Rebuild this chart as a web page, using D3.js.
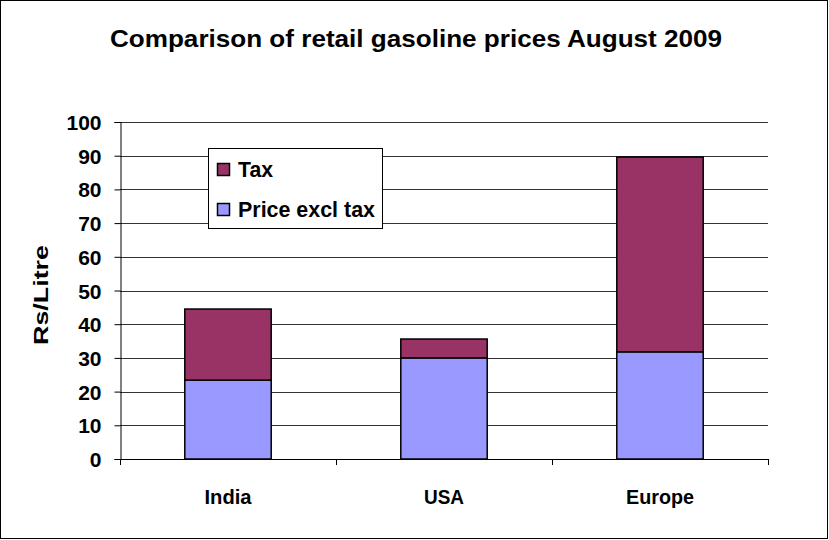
<!DOCTYPE html>
<html><head><meta charset="utf-8">
<script src="https://cdn.jsdelivr.net/npm/d3@7"></script>
<style>body{margin:0;background:#fff}svg{display:block;font-family:"Liberation Sans",Arial,sans-serif}</style>
</head><body><svg id="c" width="829" height="540"></svg>
<script>
const categories = ["India", "USA", "Europe"];
const priceExclTax = [23.4, 30.0, 31.8];
const tax = [21.1, 5.6, 57.8];
const yTicks = [0,10,20,30,40,50,60,70,80,90,100];
const seriesNames = ["Tax", "Price excl tax"];

const svg = d3.select("#c");
svg.append("rect").attr("x",0.5).attr("y",0.5).attr("width",827).attr("height",538)
  .attr("fill","#fff").attr("stroke","#000").attr("stroke-width",1);

const L=120,R=768,T=122,B=459;
const x = d3.scaleBand().domain(categories).range([L,R]).paddingInner(0).paddingOuter(0);
const y = d3.scaleLinear().domain([0,100]).range([B,T]);

svg.append("text").attr("x",110).attr("y",47)
  .attr("font-size",24).attr("font-weight","bold")
  .attr("textLength",612).attr("lengthAdjust","spacingAndGlyphs")
  .text("Comparison of retail gasoline prices August 2009");

// gridlines
svg.append("g").selectAll("line").data(yTicks.filter(d=>d>0)).join("line")
  .attr("x1",L).attr("x2",R).attr("y1",d=>Math.round(y(d))+0.5).attr("y2",d=>Math.round(y(d))+0.5)
  .attr("stroke","#333").attr("stroke-width",1.2);

// y axis
const ya = svg.append("g").attr("transform",`translate(${L+0.5},0)`)
  .call(d3.axisLeft(y).tickValues(yTicks).tickSize(6).tickPadding(13));
ya.select(".domain").attr("stroke","#000");
ya.selectAll(".tick line").attr("stroke","#000");
ya.selectAll("text").attr("font-size",21).attr("font-weight","bold").attr("fill","#000")
  .attr("dy","0.36em").attr("font-family","Liberation Sans, Arial, sans-serif");

// x axis
const xa = svg.append("g").attr("transform",`translate(0,${B+0.5})`)
  .call(d3.axisBottom(x).tickSize(0).tickPadding(0));
xa.select(".domain").remove();
svg.append("line").attr("x1",L).attr("x2",R).attr("y1",B+0.5).attr("y2",B+0.5).attr("stroke","#000").attr("stroke-width",1.2);
svg.append("g").selectAll("line").data([0,1,2,3]).join("line")
  .attr("x1",i=>Math.round(L+i*x.bandwidth())+0.5).attr("x2",i=>Math.round(L+i*x.bandwidth())+0.5)
  .attr("y1",B).attr("y2",B+6).attr("stroke","#000");
xa.selectAll("text").attr("font-size",21).attr("font-weight","bold").attr("fill","#000")
  .attr("y",44).attr("dy",0).attr("font-family","Liberation Sans, Arial, sans-serif")
  .attr("textLength",d=>({India:47,USA:40,Europe:68})[d]).attr("lengthAdjust","spacingAndGlyphs");

// bars
const bw = x.bandwidth()*0.4;
const g = svg.append("g");
categories.forEach((c,i)=>{
  const cx = x(c)+x.bandwidth()/2;
  g.append("rect").attr("x",cx-bw/2).attr("y",y(priceExclTax[i])).attr("width",bw)
    .attr("height",y(0)-y(priceExclTax[i])).attr("fill","#9999ff").attr("stroke","#000").attr("stroke-width",1.5);
  g.append("rect").attr("x",cx-bw/2).attr("y",y(priceExclTax[i]+tax[i])).attr("width",bw)
    .attr("height",y(priceExclTax[i])-y(priceExclTax[i]+tax[i])).attr("fill","#993366").attr("stroke","#000").attr("stroke-width",1.5);
});

// y title
svg.append("text").attr("transform","translate(48,295) rotate(-90)").attr("text-anchor","middle")
  .attr("font-size",21).attr("font-weight","bold")
  .attr("textLength",100).attr("lengthAdjust","spacingAndGlyphs").text("Rs/Litre");

// legend
const lg = svg.append("g");
lg.append("rect").attr("x",208.5).attr("y",148.5).attr("width",174).attr("height",80).attr("fill","#fff").attr("stroke","#000");
const cols = ["#993366","#9999ff"];
const lens = [35,137];
seriesNames.forEach((n,i)=>{
  const base = 177 + i*40;
  lg.append("rect").attr("x",217.5).attr("y",base-13.5).attr("width",12).attr("height",12).attr("fill",cols[i]).attr("stroke","#000").attr("stroke-width",1.5);
  lg.append("text").attr("x",238).attr("y",base).attr("font-size",22).attr("font-weight","bold")
    .attr("textLength",lens[i]).attr("lengthAdjust","spacingAndGlyphs").text(n);
});
</script></body></html>
